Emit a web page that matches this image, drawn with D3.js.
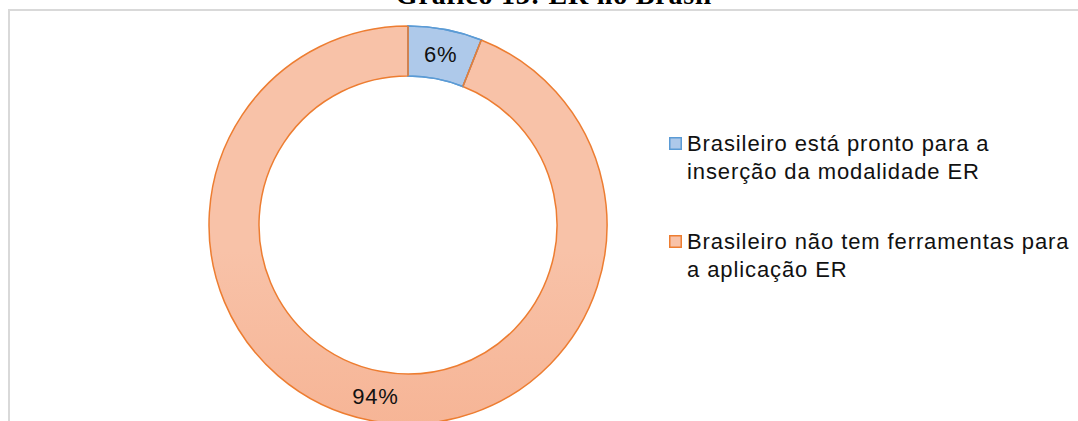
<!DOCTYPE html>
<html>
<head>
<meta charset="utf-8">
<script src="https://cdn.jsdelivr.net/npm/d3@7"></script>
<style>
  html, body { margin: 0; padding: 0; background: #fff; overflow: hidden; }
  svg { display: block; }
</style>
</head>
<body>
<svg id="chart" width="1078" height="421"></svg>
<script>
// chart values
const categories = [
  ['Brasileiro está pronto para a', 'inserção da modalidade ER'],
  ['Brasileiro não tem ferramentas para', 'a aplicação ER']
];
const values = [6, 94];
const labels = ['6%', '94%'];
const title = 'Gráfico 13: ER no Brasil';

const width = 1078, height = 421;
const cx = 408, cy = 225;
const outerR = 199, innerR = 149;

const sans = '"Liberation Sans", Arial, sans-serif';

const svg = d3.select('#chart');
const defs = svg.append('defs');

// vertical gradients, lighter at the top like the original
const fills = [
  { id: 'gBlue', top: '#aec9ea', bottom: '#9bbae4', stroke: '#5b9bd5' },
  { id: 'gOrange', top: '#f8c2a8', bottom: '#f4a47f', stroke: '#ed7d31' }
];
fills.forEach(function (f) {
  const g = defs.append('linearGradient')
    .attr('id', f.id)
    .attr('gradientUnits', 'userSpaceOnUse')
    .attr('x1', 0).attr('y1', cy - outerR)
    .attr('x2', 0).attr('y2', cy + outerR);
  g.append('stop').attr('offset', '0%').attr('stop-color', f.top);
  g.append('stop').attr('offset', '100%').attr('stop-color', f.bottom);
});

// title, mostly cut off at the top (as in the source picture)
svg.append('text')
  .attr('x', 554)
  .attr('y', 4)
  .attr('text-anchor', 'middle')
  .style('font-family', '"Liberation Serif", "Times New Roman", serif')
  .style('font-size', '28px')
  .style('font-weight', 'bold')
  .style('letter-spacing', '0.8px')
  .style('fill', '#000')
  .text(title);

// chart area border
svg.append('rect')
  .attr('x', 9)
  .attr('y', 10)
  .attr('width', width + 20)
  .attr('height', height + 20)
  .attr('fill', 'none')
  .attr('stroke', '#d9d9d9')
  .attr('stroke-width', 2);

// donut
const pie = d3.pie().sort(null).value(function (d) { return d; });
const arc = d3.arc().innerRadius(innerR).outerRadius(outerR);
const midR = (innerR + outerR) / 2;
const labelArc = d3.arc().innerRadius(midR).outerRadius(midR);
const arcs = pie(values);

const g = svg.append('g').attr('transform', 'translate(' + cx + ',' + cy + ')');

g.selectAll('path.slice')
  .data(arcs)
  .enter()
  .append('path')
  .attr('class', 'slice')
  .attr('d', arc)
  .attr('fill', function (d, i) { return 'url(#' + fills[i].id + ')'; })
  .attr('stroke', function (d, i) { return fills[i].stroke; })
  .attr('stroke-width', 1.5);

// blue slice outline on top so its curved edges stay blue
g.append('path')
  .attr('d', arc(arcs[0]))
  .attr('fill', 'none')
  .attr('stroke', fills[0].stroke)
  .attr('stroke-width', 1.5);

// the radial edges show orange in the original
g.selectAll('.edge')
  .data([arcs[0].startAngle, arcs[0].endAngle])
  .enter()
  .append('line')
  .attr('class', 'edge')
  .attr('x1', function (a) { return innerR * Math.sin(a); })
  .attr('y1', function (a) { return -innerR * Math.cos(a); })
  .attr('x2', function (a) { return outerR * Math.sin(a); })
  .attr('y2', function (a) { return -outerR * Math.cos(a); })
  .attr('stroke', fills[1].stroke)
  .attr('stroke-width', 1.5);

g.selectAll('.lbl')
  .data(arcs)
  .enter()
  .append('text')
  .attr('class', 'lbl')
  .attr('transform', function (d) { return 'translate(' + labelArc.centroid(d) + ')'; })
  .attr('text-anchor', 'middle')
  .attr('dy', '0.36em')
  .style('font-family', sans)
  .style('font-size', '22px')
  .style('letter-spacing', '0.8px')
  .style('fill', '#111')
  .text(function (d, i) { return labels[i]; });

// legend
const legend = svg.append('g').attr('transform', 'translate(669,0)');
const legendTop = [137, 235];

const item = legend.selectAll('.item')
  .data(categories)
  .enter()
  .append('g')
  .attr('class', 'item')
  .attr('transform', function (d, i) { return 'translate(0,' + legendTop[i] + ')'; });

item.append('rect')
  .attr('x', 0.75)
  .attr('y', 0.75)
  .attr('width', 11.5)
  .attr('height', 11.5)
  .attr('fill', function (d, i) { return 'url(#' + fills[i].id + ')'; })
  .attr('stroke', function (d, i) { return fills[i].stroke; })
  .attr('stroke-width', 1.5);

item.append('text')
  .attr('x', 18)
  .attr('y', 6)
  .style('font-family', sans)
  .style('font-size', '22px')
  .style('letter-spacing', '0.9px')
  .style('fill', '#111')
  .selectAll('tspan')
  .data(function (d) { return d; })
  .enter()
  .append('tspan')
  .attr('x', 18)
  .attr('dy', function (d, i) { return i === 0 ? '0.36em' : '28px'; })
  .text(function (d) { return d; });
</script>
</body>
</html>
